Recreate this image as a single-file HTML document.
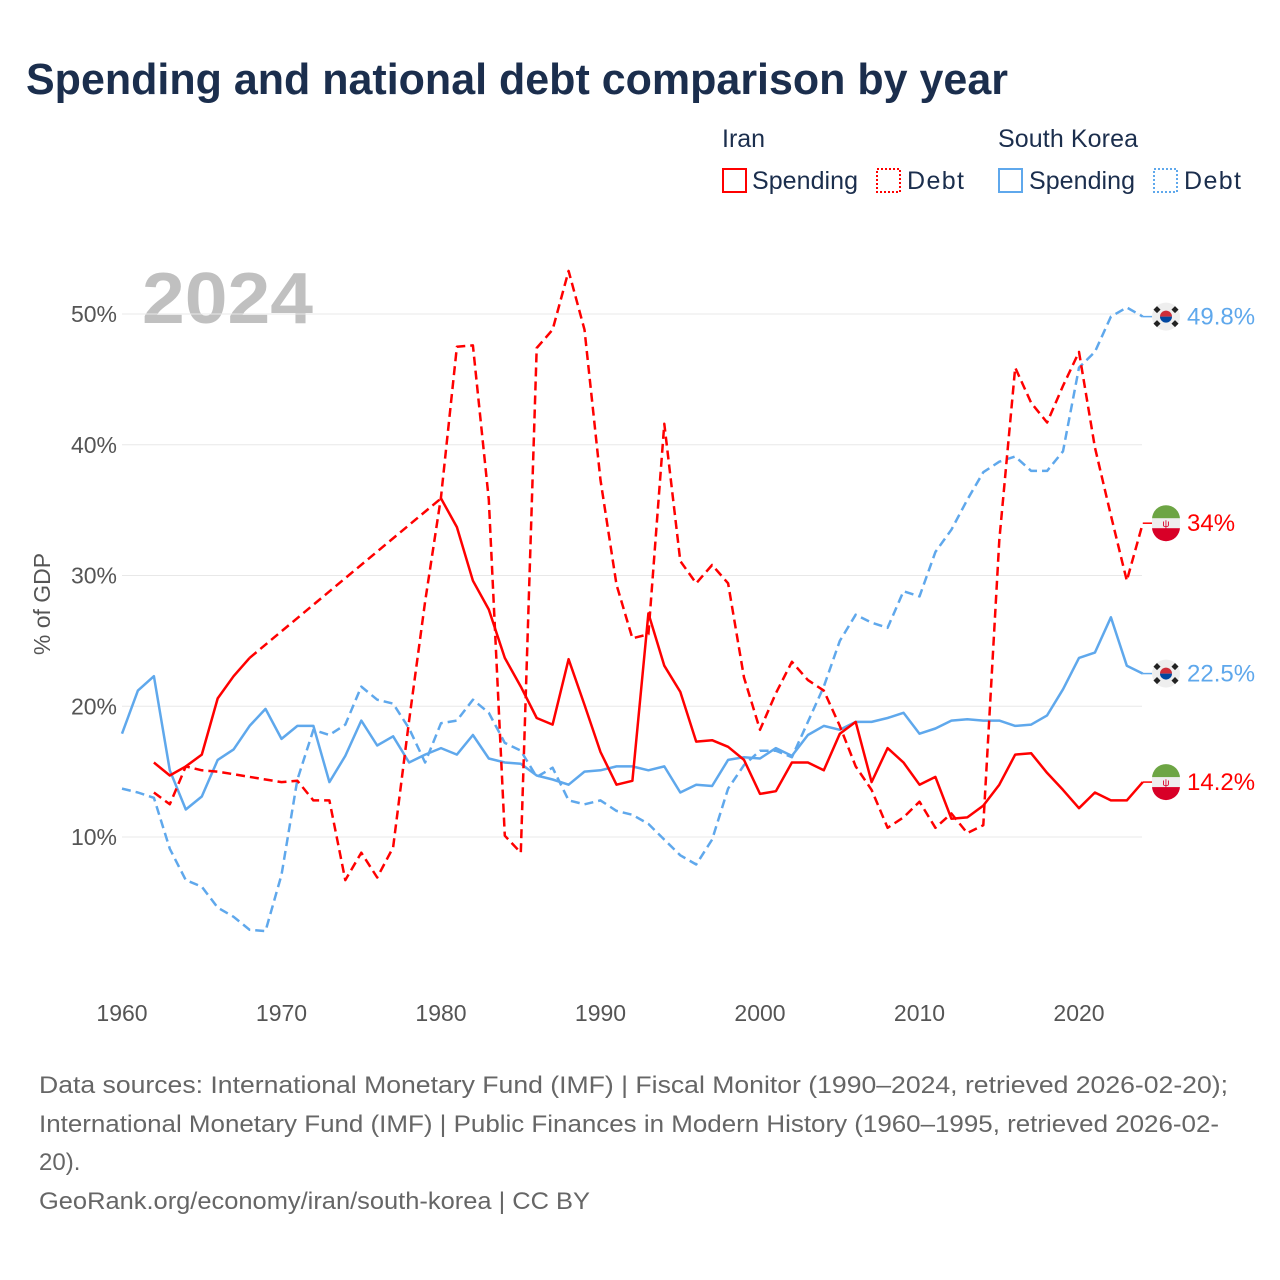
<!DOCTYPE html>
<html><head><meta charset="utf-8">
<style>
body{margin:0;background:#fff;font-family:"Liberation Sans",sans-serif;}
#wrap{position:relative;width:1280px;height:1280px;overflow:hidden;}
</style></head>
<body>
<div id="wrap">
<svg id="chart" width="1280" height="1280" xmlns="http://www.w3.org/2000/svg">
<text x="26" y="94" font-size="44" font-weight="bold" fill="#1b2e4d" textLength="982" lengthAdjust="spacingAndGlyphs">Spending and national debt comparison by year</text>
<g font-size="25" fill="#1b2e4d">
<text x="722" y="147">Iran</text>
<text x="998" y="147" textLength="140">South Korea</text>
<g><rect x="723" y="169" width="23" height="23" fill="none" stroke="#ff0000" stroke-width="2"/><text x="752" y="189" textLength="106">Spending</text></g>
<g><rect x="877" y="169" width="23" height="23" fill="none" stroke="#ff0000" stroke-width="2" stroke-dasharray="2,2"/><text x="907" y="189" textLength="57">Debt</text></g>
<g><rect x="999" y="169" width="23" height="23" fill="none" stroke="#5fa8ec" stroke-width="2"/><text x="1029" y="189" textLength="106">Spending</text></g>
<g><rect x="1154" y="169" width="23" height="23" fill="none" stroke="#5fa8ec" stroke-width="2" stroke-dasharray="2,2"/><text x="1184" y="189" textLength="57">Debt</text></g>
</g>
<text x="142" y="323" font-size="72" font-weight="bold" fill="#c0c0c0" textLength="171" lengthAdjust="spacingAndGlyphs">2024</text>
<text transform="translate(50,604) rotate(-90)" text-anchor="middle" font-size="23" fill="#555">% of GDP</text>
<g id="grid"></g><g id="series"></g><g id="ends"></g>
<g font-size="24" fill="#666">
<text x="39" y="1093" textLength="1189" lengthAdjust="spacingAndGlyphs">Data sources: International Monetary Fund (IMF) | Fiscal Monitor (1990–2024, retrieved 2026-02-20);</text>
<text x="39" y="1132" textLength="1180" lengthAdjust="spacingAndGlyphs">International Monetary Fund (IMF) | Public Finances in Modern History (1960–1995, retrieved 2026-02-</text>
<text x="39" y="1170">20).</text>
<text x="39" y="1209" textLength="551" lengthAdjust="spacingAndGlyphs">GeoRank.org/economy/iran/south-korea | CC BY</text>
</g>
</svg>
</div>
<script>
const years=[];for(let y=1960;y<=2024;y++)years.push(y);
const yTicks=[10,20,30,40,50];
const xTicks=[1960,1970,1980,1990,2000,2010,2020];
const iranSpending=[null,null,15.7,14.7,15.4,16.3,20.6,22.3,23.7,null,null,null,null,null,null,null,null,null,null,null,35.9,33.7,29.6,27.4,23.7,21.5,19.1,18.6,23.6,20.1,16.5,14.0,14.3,27.1,23.1,21.1,17.3,17.4,16.9,15.9,13.3,13.5,15.7,15.7,15.1,17.9,18.8,14.2,16.8,15.7,14.0,14.6,11.4,11.5,12.4,14.0,16.3,16.4,14.9,13.6,12.2,13.4,12.8,12.8,14.2];
const iranDebt=[null,null,13.4,12.5,15.4,15.1,15.0,14.8,14.6,14.4,14.2,14.3,12.8,12.8,6.7,8.8,6.9,9.2,18.9,28.0,36.0,47.5,47.6,35.8,10.1,8.8,47.4,48.8,53.3,48.8,37.3,29.3,25.2,25.5,41.6,31.1,29.4,30.8,29.4,22.2,18.2,21.0,23.4,22.0,21.2,18.5,15.4,13.6,10.7,11.5,12.7,10.7,11.8,10.3,10.9,32.7,45.9,43.2,41.7,44.5,47.1,39.8,34.6,29.6,34.0];
const korSpending=[17.9,21.2,22.3,15.1,12.1,13.1,15.9,16.7,18.5,19.8,17.5,18.5,18.5,14.2,16.2,18.9,17.0,17.7,15.7,16.3,16.8,16.3,17.8,16.0,15.7,15.6,14.7,14.4,14.0,15.0,15.1,15.4,15.4,15.1,15.4,13.4,14.0,13.9,15.9,16.1,16.0,16.8,16.2,17.8,18.5,18.2,18.8,18.8,19.1,19.5,17.9,18.3,18.9,19.0,18.9,18.9,18.5,18.6,19.3,21.3,23.7,24.1,26.8,23.1,22.5];
const korDebt=[13.7,13.4,13.0,9.1,6.7,6.2,4.6,3.9,2.9,2.8,7.1,14.4,18.2,17.8,18.6,21.5,20.5,20.2,18.3,15.7,18.7,18.9,20.5,19.5,17.2,16.6,14.6,15.3,12.8,12.5,12.8,12.0,11.7,11.0,9.8,8.6,7.9,9.8,13.7,15.5,16.6,16.6,16.1,18.8,21.5,25.0,27.0,26.4,26.0,28.8,28.4,31.8,33.5,35.8,37.9,38.7,39.1,38.0,38.0,39.5,45.9,47.1,49.8,50.5,49.8];

const NS='http://www.w3.org/2000/svg';
const X=yr=>122+(yr-1960)*15.95;
const Y=v=>967.75-v*13.075;
function mk(tag,attrs,parent){const e=document.createElementNS(NS,tag);for(const k in attrs)e.setAttribute(k,attrs[k]);parent.appendChild(e);return e;}
const grid=document.getElementById('grid'),ser=document.getElementById('series'),ends=document.getElementById('ends');
yTicks.forEach(t=>{
  const l=mk('line',{x1:122,x2:1142,y1:Y(t),y2:Y(t),stroke:'#e8e8e8','stroke-width':1},grid);
  
  
  const tx=mk('text',{x:117,y:Y(t)+8,'text-anchor':'end','font-size':23,fill:'#555'},grid);
  tx.textContent=t+'%';
  
  
});
xTicks.forEach(t=>{
  const tx=mk('text',{x:X(t),y:1021,'text-anchor':'middle','font-size':23,fill:'#555'},grid);
  tx.textContent=t;
  
  
});
function draw(vals,color,dash,name){
  let d='',pen=false,lastI=-1,gapD='';
  vals.forEach((v,i)=>{
    if(v==null){pen=false;return;}
    const p=X(years[i]).toFixed(1)+','+Y(v).toFixed(1);
    if(!pen&&lastI>=0&&i-lastI>1) gapD+='M'+X(years[lastI]).toFixed(1)+','+Y(vals[lastI]).toFixed(1)+'L'+p;
    d+=(pen?'L':'M')+p;pen=true;lastI=i;
  });
  const a={d:d,fill:'none',stroke:color,'stroke-width':2.5,'stroke-linejoin':'round'};
  if(dash)a['stroke-dasharray']='9,5';
  const path=mk('path',a,ser);
  
  
  if(gapD){const g=mk('path',{d:gapD,fill:'none',stroke:color,'stroke-width':2.5,'stroke-dasharray':'9,5'},ser);
    
    }
}
draw(korDebt,'#5fa8ec',true,'korea-debt-line');
draw(korSpending,'#5fa8ec',false,'korea-spending-line');
draw(iranDebt,'#ff0000',true,'iran-debt-line');
draw(iranSpending,'#ff0000',false,'iran-spending-line');
function endLabel(vals,color,flag,name){
  const v=vals[vals.length-1],cy=Y(v),cx=1166;
  const g=mk('g',{},ends);
  
  
  mk('line',{x1:X(2024),x2:cx-14,y1:cy,y2:cy,stroke:color,'stroke-width':1.5},g);
  mk('circle',{cx:cx,cy:cy,r:14,fill:'#eee'},g);
  if(flag==='kr'){
    mk('path',{d:`M${cx-6},${cy} a6,6 0 0 1 12,0z`,fill:'#cd2e3a'},g);
    mk('path',{d:`M${cx-6},${cy} a6,6 0 0 0 12,0z`,fill:'#0047a0'},g);
    [[-9,-7],[9,-7],[-9,7],[9,7]].forEach(o=>mk('rect',{x:cx+o[0]-2.5,y:cy+o[1]-2.5,width:5,height:5,fill:'#222',transform:`rotate(45 ${cx+o[0]} ${cy+o[1]})`},g));
  } else {
    mk('path',{d:`M${cx-14},${cy-4} a14,14 0 0 1 28,0z`,fill:'#6da544'},g);
    mk('path',{d:`M${cx-14},${cy+4} a14,14 0 0 0 28,0z`,fill:'#d80027'},g);
    mk('rect',{x:cx-14,y:cy-5,width:28,height:10,fill:'#eee'},g);
    mk('text',{x:cx,y:cy+4,'text-anchor':'middle','font-size':10,fill:'#d80027'},g).textContent='ψ';
  }
  const t=mk('text',{x:1187,y:cy+8,'font-size':24,fill:color},g);
  t.textContent=(Math.round(v*10)/10)+'%';
}
endLabel(korDebt,'#5fa8ec','kr','end-label-korea-debt');
endLabel(iranDebt,'#ff0000','ir','end-label-iran-debt');
endLabel(korSpending,'#5fa8ec','kr','end-label-korea-spending');
endLabel(iranSpending,'#ff0000','ir','end-label-iran-spending');
</script>
</body></html>
